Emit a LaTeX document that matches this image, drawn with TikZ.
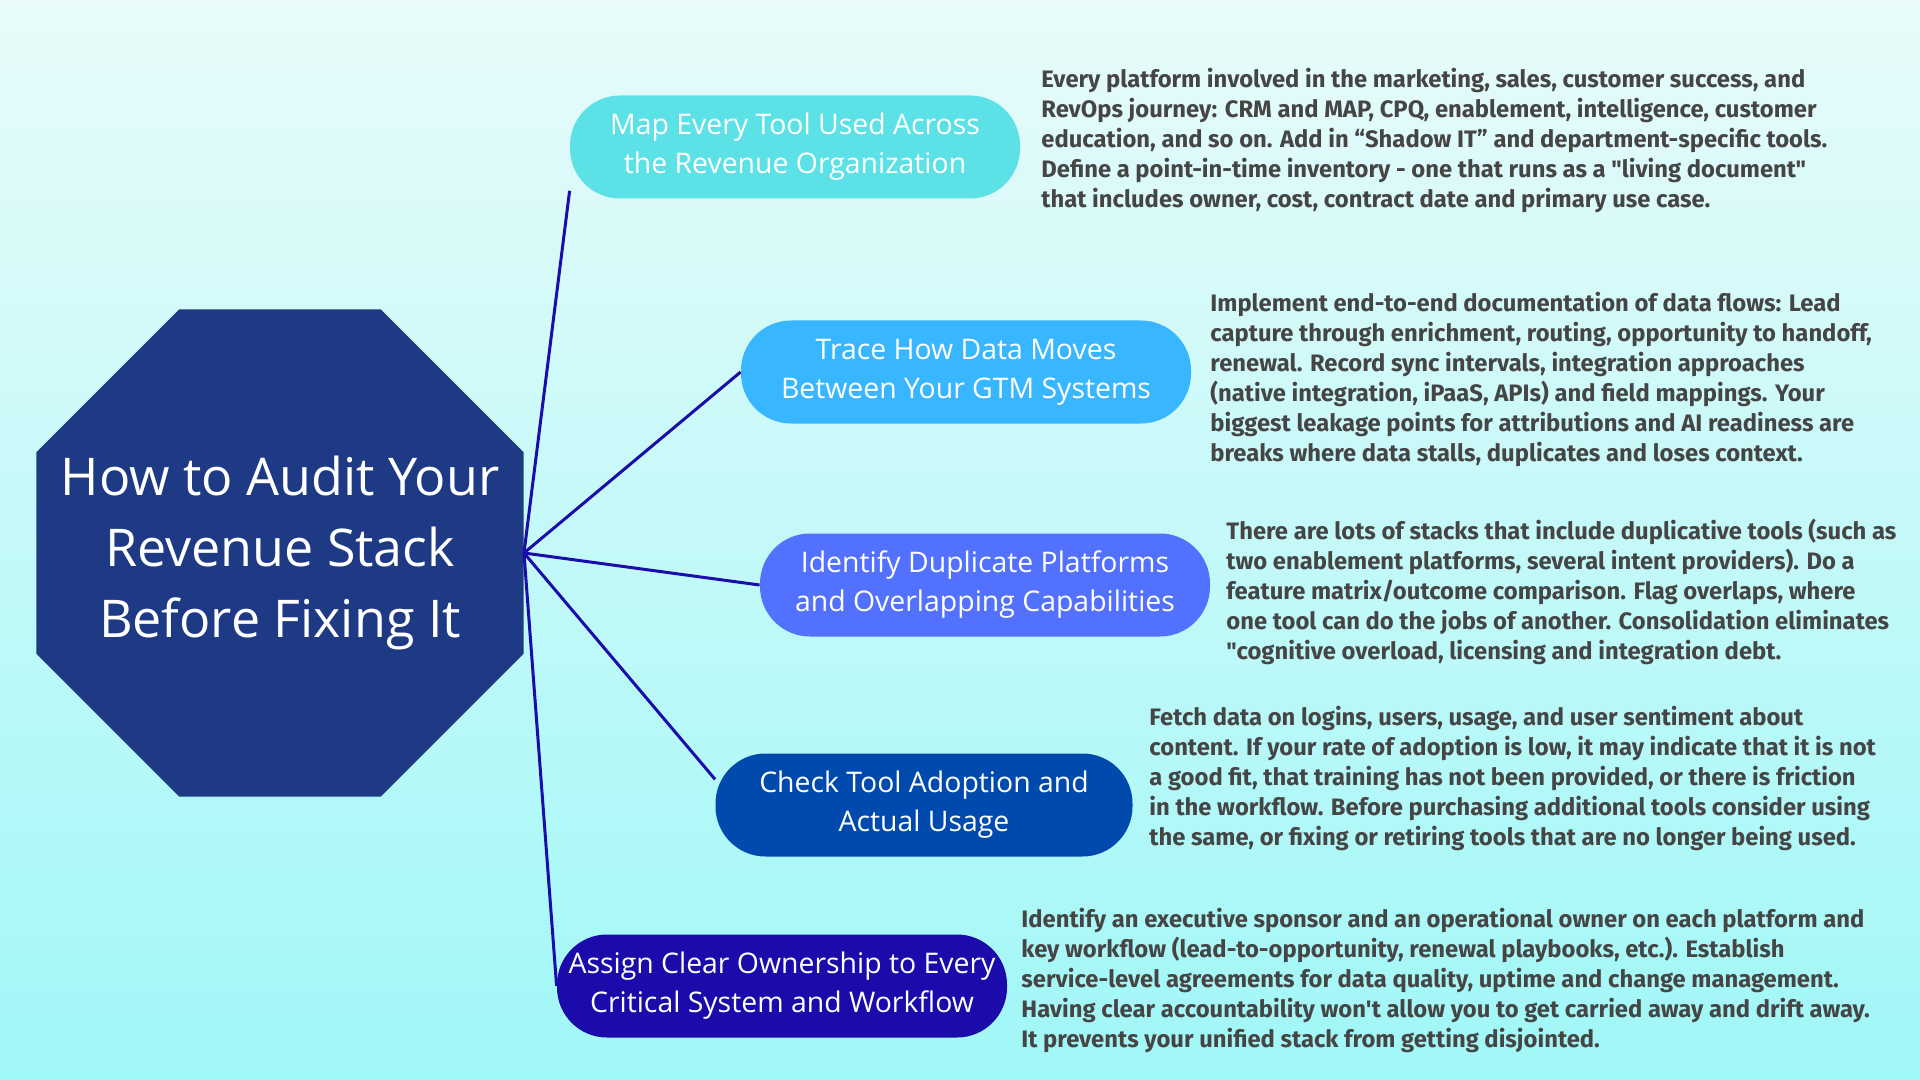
\documentclass[tikz,border=0pt]{standalone}
\usepackage{fontspec}
\setmainfont{Open Sans}
\newfontfamily\bodyf{Fira Sans}
\usetikzlibrary{shapes.geometric}
\definecolor{bgtop}{HTML}{E8FBFA}
\definecolor{bgbot}{HTML}{A0F7F7}
\definecolor{octc}{HTML}{1E3A84}
\definecolor{linec}{HTML}{1A0DAB}
\definecolor{txt}{HTML}{454545}
\definecolor{c1}{HTML}{5CE1E6}
\definecolor{c2}{HTML}{38B6FF}
\definecolor{c3}{HTML}{5271FF}
\definecolor{c4}{HTML}{004AAD}
\definecolor{c5}{HTML}{1A0BAA}
\begin{document}
\begin{tikzpicture}[x=0.5pt,y=-0.5pt,
  pill/.style={rectangle,rounded corners=25pt,minimum width=225pt,minimum height=51.5pt,
    inner sep=0pt,align=center,text=white,font=\fontsize{14.2}{19.5}\selectfont},
  body/.style={anchor=north west,align=left,inner sep=0pt,text=txt,
    font=\bodyf\bfseries\fontsize{11.9}{15}\selectfont},
  conn/.style={draw=linec,line width=1.5pt}]
\shade[top color=bgtop,bottom color=bgbot] (0,0) rectangle (1920,1080);
\useasboundingbox (0,0) rectangle (1920,1080);
\node[regular polygon,regular polygon sides=8,minimum size=263.6pt,inner sep=0pt,fill=octc] (oct) at (280,553) {};
\node[text=white,align=center,font=\fontsize{26}{35.5}\selectfont] (title) at (oct.center)
  {How to Audit Your\\Revenue Stack\\Before Fixing It};
\node[pill,fill=c1] (p1) at (795,147) {Map Every Tool Used Across\\the Revenue Organization};
\node[pill,fill=c2] (p2) at (966,372) {Trace How Data Moves\\Between Your GTM Systems};
\node[pill,fill=c3] (p3) at (985,585) {Identify Duplicate Platforms\\and Overlapping Capabilities};
\node[pill,fill=c4,minimum width=208.5pt] (p4) at (924,805) {Check Tool Adoption and\\Actual Usage};
\node[pill,fill=c5] (p5) at (782,986) {Assign Clear Ownership to Every\\Critical System and Workflow};
\draw[conn] (oct.east) -- (p1.191);
\draw[conn] (oct.east) -- (p2.west);
\draw[conn] (oct.east) -- (p3.west);
\draw[conn] (oct.east) -- (p4.173);
\draw[conn] (oct.east) -- (p5.west);
\node[body] (t1) at (1041,68) {Every platform involved in the marketing, sales, customer success, and\\RevOps journey: CRM and MAP, CPQ, enablement, intelligence, customer\\education, and so on. Add in “Shadow IT” and department-specific tools.\\Define a point-in-time inventory - one that runs as a "living document"\\that includes owner, cost, contract date and primary use case.};
\node[body] (t2) at (1210,292) {Implement end-to-end documentation of data flows: Lead\\capture through enrichment, routing, opportunity to handoff,\\renewal. Record sync intervals, integration approaches\\(native integration, iPaaS, APIs) and field mappings. Your\\biggest leakage points for attributions and AI readiness are\\breaks where data stalls, duplicates and loses context.};
\node[body] (t3) at (1226,519) {There are lots of stacks that include duplicative tools (such as\\two enablement platforms, several intent providers). Do a\\feature matrix/outcome comparison. Flag overlaps, where\\one tool can do the jobs of another. Consolidation eliminates\\"cognitive overload, licensing and integration debt.};
\node[body] (t4) at (1149,706) {Fetch data on logins, users, usage, and user sentiment about\\content. If your rate of adoption is low, it may indicate that it is not\\a good fit, that training has not been provided, or there is friction\\in the workflow. Before purchasing additional tools consider using\\the same, or fixing or retiring tools that are no longer being used.};
\node[body] (t5) at (1021,908) {Identify an executive sponsor and an operational owner on each platform and\\key workflow (lead-to-opportunity, renewal playbooks, etc.). Establish\\service-level agreements for data quality, uptime and change management.\\Having clear accountability won't allow you to get carried away and drift away.\\It prevents your unified stack from getting disjointed.};
\end{tikzpicture}
\end{document}
